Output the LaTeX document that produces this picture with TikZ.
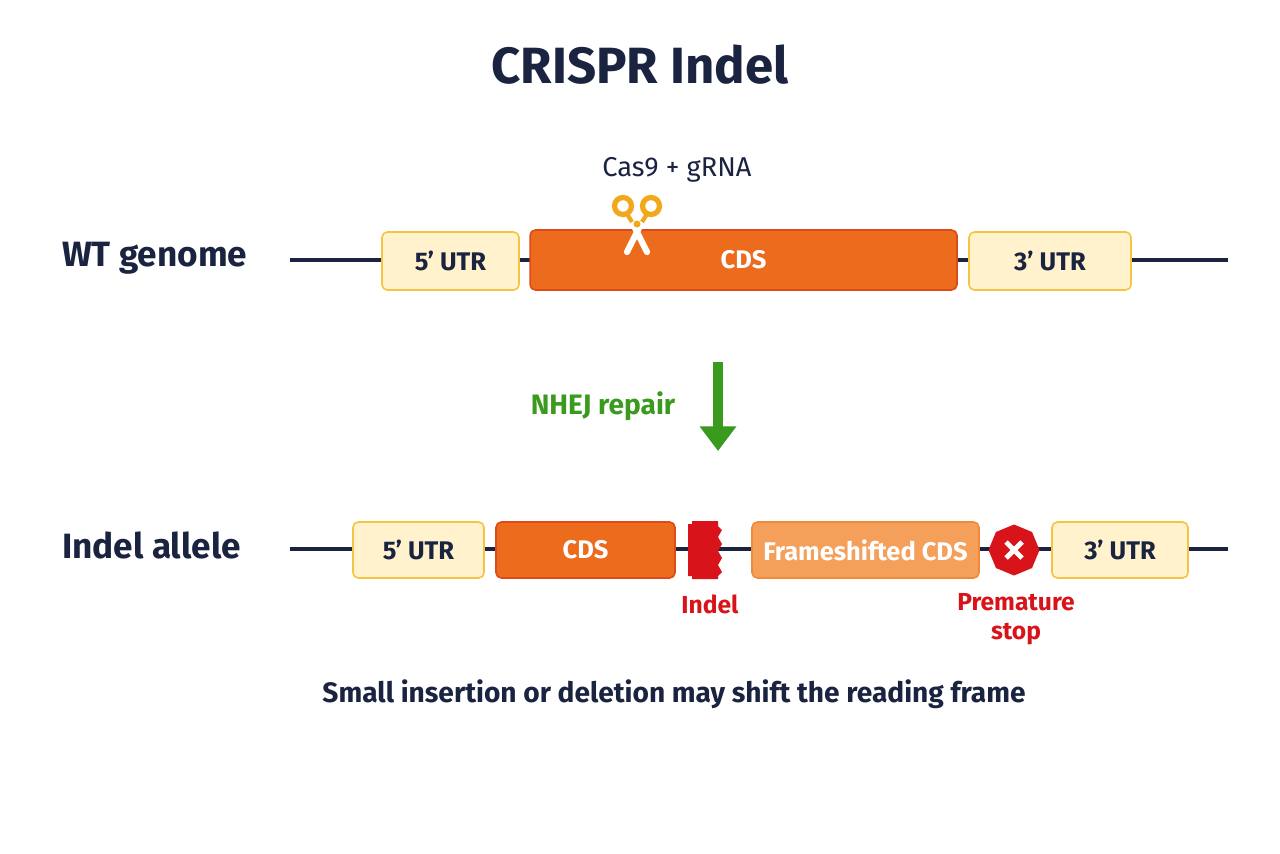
\documentclass[tikz,border=0pt]{standalone}
\usepackage{fontspec}
\setmainfont{Fira Sans}
\usetikzlibrary{shapes.geometric,arrows.meta}
\definecolor{navy}{HTML}{1A2340}
\definecolor{utrf}{HTML}{FFF2CC}
\definecolor{utrd}{HTML}{F5C542}
\definecolor{cdsf}{HTML}{EC6B1C}
\definecolor{cdsd}{HTML}{DE4A1A}
\definecolor{fsf}{HTML}{F5A05A}
\definecolor{fsd}{HTML}{EE8A3A}
\definecolor{redc}{HTML}{D8141A}
\definecolor{greenc}{HTML}{3A9A1E}
\definecolor{gold}{HTML}{F2A81D}
\begin{document}
\begin{tikzpicture}[x=0.02cm,y=-0.02cm,
  box/.style={draw,rounded corners=3pt,line width=0.9pt,font=\bfseries\fontsize{14.5}{16}\selectfont},
  utr/.style={box,fill=utrf,draw=utrd,text=navy},
  cds/.style={box,fill=cdsf,draw=cdsd,text=white},
  fs/.style={box,fill=fsf,draw=fsd,text=white},
  row/.style={font=\bfseries\fontsize{20}{23}\selectfont,text=navy},
  dna/.style={line width=1.8pt,draw=navy}]
\useasboundingbox (0,0) rectangle (1280,853);
\node[font=\bfseries\fontsize{29}{33}\selectfont,text=navy] (title) at (640,65) {CRISPR Indel};
% WT row
\node[row,anchor=west] (wt) at (56,258) {WT genome};
\coordinate (wl) at (290,260); \coordinate (wr) at (1228,260);
\draw[dna] (wl) -- (wr);
\node[utr,minimum width=2.74cm,minimum height=1.16cm] (u5) at (450.5,261) {5’ UTR};
\node[cds,minimum width=8.54cm,minimum height=1.2cm] (cds) at (743.5,260) {CDS};
\node[utr,minimum width=3.24cm,minimum height=1.16cm] (u3) at (1050,261) {3’ UTR};
\node[font=\fontsize{15.5}{18}\selectfont,text=navy] (cas) at (677,170) {Cas9 + gRNA};
% scissors
\begin{scope}[shift={(637,228)}]
  \draw[white,line width=3.5pt,line cap=round] (-10,24) -- (5,-6);
  \draw[white,line width=3.5pt,line cap=round] (10,24) -- (-5,-6);
  \draw[gold,line width=2.4pt] (-5,-6) -- (-10,-14);
  \draw[gold,line width=2.4pt] (5,-6) -- (10,-14);
  \draw[gold,line width=3pt] (-14,-22) circle (8.5);
  \draw[gold,line width=3pt] (14,-22) circle (8.5);
  \fill[gold] (0,-4) circle (3.5);
\end{scope}
% arrow
\coordinate (at) at (718,362); \coordinate (ab) at (718,451);
\draw[greenc,line width=6pt,-{Triangle[width=20pt,length=14pt]}] (at) -- (ab);
\node[font=\bfseries\fontsize{16}{19}\selectfont,text=greenc] (nhej) at (603,406) {NHEJ repair};
% Indel row
\node[row,anchor=west] (ia) at (56,545) {Indel allele};
\coordinate (il) at (290,549); \coordinate (ir) at (1228,549);
\draw[dna] (il) -- (ir);
\node[utr,minimum width=2.62cm,minimum height=1.12cm] (v5) at (418.5,550) {5’ UTR};
\node[cds,minimum width=3.58cm,minimum height=1.12cm] (vc) at (585.5,550) {CDS};
\fill[redc] (688,524) -- (692,524) -- (692,521) -- (718,521) -- (718,526) -- (722,530) -- (718,537) -- (722,544) -- (718,551) -- (722,558) -- (718,565) -- (722,572) -- (718,576) -- (718,579) -- (692,579) -- (692,576) -- (688,576) -- cycle;
\node[fs,minimum width=4.54cm,minimum height=1.12cm] (fsn) at (865.5,550) {Frameshifted CDS};
\node[regular polygon,regular polygon sides=8,fill=redc,minimum size=1.02cm,inner sep=0pt,shape border rotate=22.5] (stop) at (1014,550) {};
\draw[white,line width=2.8pt] (1006,558) -- (1022,542);
\draw[white,line width=2.8pt] (1006,542) -- (1022,558);
\node[utr,minimum width=2.72cm,minimum height=1.12cm] (v3) at (1120,550) {3’ UTR};
\node[font=\bfseries\fontsize{14}{16}\selectfont,text=redc] (il2) at (710,604) {Indel};
\node[font=\bfseries\fontsize{14}{16.5}\selectfont,text=redc,align=center] (ps) at (1016,619) {Premature\\stop};
\node[font=\bfseries\fontsize{16}{19}\selectfont,text=navy] (cap) at (674,694) {Small insertion or deletion may shift the reading frame};
\end{tikzpicture}
\end{document}
